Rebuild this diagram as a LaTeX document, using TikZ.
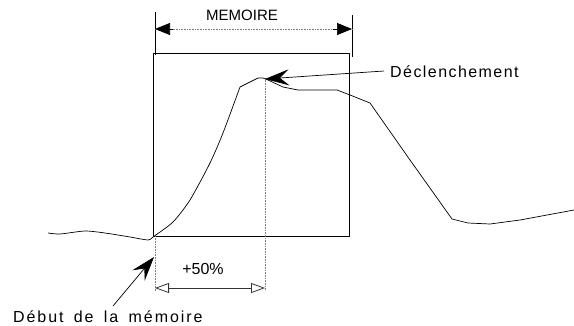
\documentclass[tikz,border=0pt]{standalone}
\usepackage{fontspec}
\setmainfont{Liberation Sans}
\newfontfamily\cadfont[LetterSpace=9]{Liberation Sans}
\newfontfamily\cadwide[LetterSpace=12]{Liberation Sans}
\usetikzlibrary{arrows.meta}
\begin{document}
\begin{tikzpicture}[x=1pt,y=-1pt,line join=round,
  thinline/.style={line width=0.7pt,black},
  dotline/.style={line width=0.6pt,gray,densely dotted},
  lbl/.style={inner sep=0pt,font=\fontsize{16}{18}\selectfont\cadfont},
  fillhead/.style={thinline,-{Triangle[length=15pt,width=12pt]}},
  openhead/.style={line width=0.7pt,black!80,-{Triangle[open,length=14pt,width=10pt,line width=0.8pt]}},
  leader/.style={thinline,-{Stealth[length=24pt,width=16pt,inset=9pt]}}]
\useasboundingbox (0,0) rectangle (574,325);
% box
\draw[thinline] (153,53) rectangle (349,236);
% extension lines
\coordinate (mL1) at (155,12); \coordinate (mL2) at (155,55);
\coordinate (mR1) at (352,15); \coordinate (mR2) at (352,57);
\draw[thinline] (mL1) -- (mL2);
\draw[thinline] (mR1) -- (mR2);
\coordinate (mA) at (155,29); \coordinate (mB) at (352,29);
\coordinate (mM) at (253,29);
\draw[dotline] (mA) -- (mB);
\draw[fillhead,shorten <=80pt] (mM) -- (mA);
\draw[fillhead,shorten <=80pt] (mM) -- (mB);
\node[inner sep=0pt,font=\fontsize{15}{17}\selectfont] (mem) at (242,15) {MEMOIRE};
% dotted verticals
\coordinate (pL1) at (155,236); \coordinate (pL2) at (155,292);
\coordinate (pR1) at (265,78); \coordinate (pR2) at (265,290);
\draw[dotline] (pL1) -- (pL2);
\draw[dotline] (pR1) -- (pR2);
% +50% dimension
\coordinate (pA) at (155,288); \coordinate (pB) at (265,288);
\coordinate (pM) at (210,288);
\draw[openhead] (pM) -- (pA);
\draw[openhead] (pM) -- (pB);
\node[inner sep=0pt,font=\fontsize{16}{18}\selectfont] (p50) at (203,269) {+50\%};
% curve
\draw[thinline] plot[smooth,tension=0.4] coordinates {
 (48,233) (60,234) (85,231) (105,233) (130,237) (148,240) (153,237)
 (173,222) (190,200) (210,163) (223,133) (240,87)}
 -- (250,82) -- (258,78) -- (263,78) -- (268,80) -- (283,87) -- (298,90)
 -- (337,90) -- (350,95) -- (370,103) -- (410,160) -- (452,219)
 -- (468,223) -- (490,224) -- (520,220) -- (574,210);
% Declenchement
\node[lbl,anchor=west] (dec) at (390,72) {Déclenchement};
\coordinate (peak) at (265,79);
\coordinate (decT) at (384,71);
\draw[leader] (decT) -- (peak);
% Debut
\node[inner sep=0pt,anchor=base west,font=\fontsize{16}{18}\selectfont\cadwide] (deb) at (13,322.5) {Début\hspace{4pt} de\hspace{4pt} la\hspace{4pt} mémoire};
\coordinate (debT) at (113,306);
\coordinate (start) at (154,257);
\draw[leader] (debT) -- (start);
\end{tikzpicture}
\end{document}
